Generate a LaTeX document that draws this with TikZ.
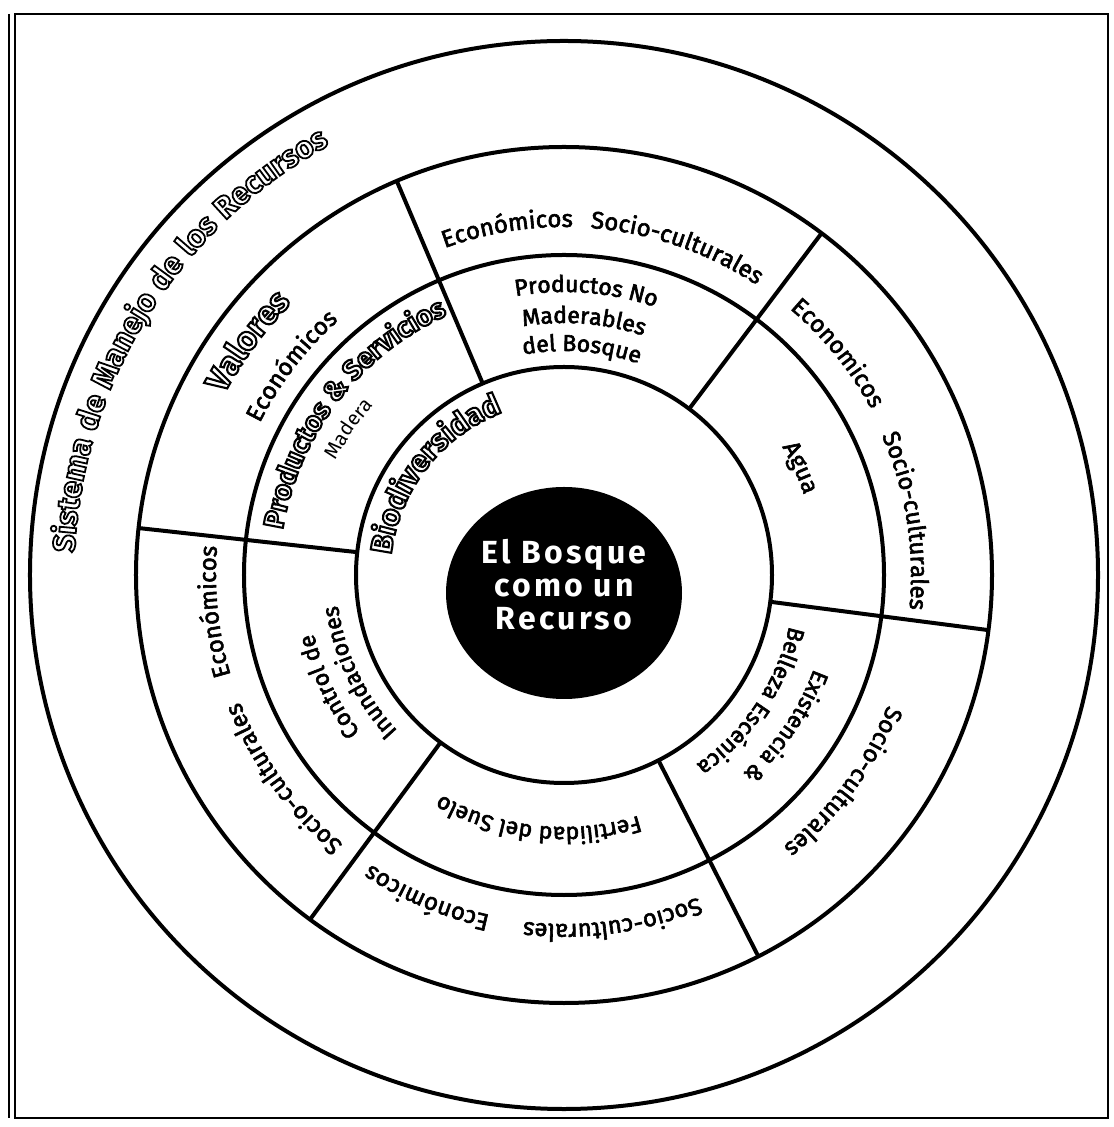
\documentclass[tikz,border=0pt]{standalone}
\usepackage{fontspec}
\setmainfont{Fira Sans}
\usetikzlibrary{decorations.text}
\newcommand\fring{\fontsize{12}{14}\selectfont}
\newcommand\finner{\fontsize{11.5}{13}\selectfont}
\newcommand\fsmall{\fontsize{10}{12}\selectfont}
\newcommand\fbig{\bfseries\fontsize{15}{18}\selectfont}
\newcommand\fval{\bfseries\fontsize{16.5}{19}\selectfont}
\newcommand\fprod{\bfseries\fontsize{14}{17}\selectfont}
\newcommand\fsis{\bfseries\fontsize{15.5}{18}\selectfont\addfontfeatures{LetterSpace=4}}
% text rendering modes (fill+stroke for semibold, stroke only for outline)
\newcommand\modesemibold{\special{pdf:literal direct 2 Tr 0.3 w}}
\newcommand\modeoutline[1]{\special{pdf:literal direct 1 Tr #1 w}}
\newcommand\modenormal{\special{pdf:literal direct 0 Tr}}
% [colour]{font}{centre angle}{baseline radius}{text}
\newcommand\ringtext[5][black]{%
  \path[decorate,decoration={text along path,text align=center,text color=#1,text={|#2|#5}}]
    ({#3+60}:#4) arc[start angle={#3+60}, end angle={#3-60}, radius=#4];}
\tikzset{ringline/.style={line width=2pt},framebox/.style={line width=1.3pt}}
\begin{document}
\begin{tikzpicture}[x=0.5pt,y=0.5pt]
\useasboundingbox (-564,-552) rectangle (549,575);
\fill[white] (-564,-552) rectangle (549,575);
\coordinate (O) at (0,0);
% frame
\draw[framebox] (-549,561) rectangle (544,-543);
\draw[line width=0.9pt] (-555,561) -- (-555,-543);
% rings
\draw[ringline] (O) circle[radius=534];
\draw[ringline] (O) circle[radius=428];
\draw[ringline] (O) circle[radius=320];
\draw[ringline] (O) circle[radius=208];
% dividers
\foreach \a in {113,53,-7.4,-63,-126.4,173.7}
  \draw[ringline] (\a:208) -- (\a:428);
% centre
\fill[black] (0,-18) ellipse[x radius=118, y radius=106];
\node[text=white, align=center, font=\bfseries\fontsize{16}{16.5}\selectfont\addfontfeatures{LetterSpace=10}] (centre) at (0,-10) {El Bosque\\como un\\Recurso};
% ---- semibold labels
\modesemibold
% Valores ring
\ringtext{\fring}{142.5}{340}{Económicos}
\ringtext{\fring}{99.3}{348}{Económicos}
\ringtext{\fring}{71}{348}{Socio-culturales}
\ringtext{\fring}{39}{349}{Economicos}
\ringtext{\fring}{9}{347}{Socio-culturales}
\ringtext{\fring}{-36.5}{349}{Socio-culturales}
\ringtext{\fring}{-82}{349}{Socio-culturales}
\ringtext{\fring}{-113}{348}{Económicos}
\ringtext{\fring}{186}{348}{Económicos}
\ringtext{\fring}{216}{348}{Socio-culturales}
% Productos ring
\ringtext{\finner}{85.5}{283}{Productos No}
\ringtext{\finner}{85.5}{252}{Maderables}
\ringtext{\finner}{85.5}{224}{del Bosque}
\ringtext{\fring}{24.4}{253}{Agua}
\ringtext{\finner}{-34.3}{267}{Existencia {\&}}
\ringtext{\finner}{-34}{231}{Belleza Escénica}
\ringtext{\finner}{-96}{252}{Fertilidad del Suelo}
\ringtext{\finner}{205.4}{257}{Control de}
\ringtext{\finner}{205.4}{228}{Inundaciones}
\modenormal
\ringtext{\fsmall}{145.8}{255}{Madera}
% ---- outlined titles
\modeoutline{0.9}
\ringtext{\fsis}{148}{490}{Sistema de Manejo de los Recursos}
\modeoutline{1.05}
\ringtext{\fval}{143.5}{385}{Valores}
\ringtext{\fprod}{142.5}{285}{Productos {\&} Servicios}
\ringtext{\fbig}{142}{174}{Biodiversidad}
\modenormal
\end{tikzpicture}
\end{document}
